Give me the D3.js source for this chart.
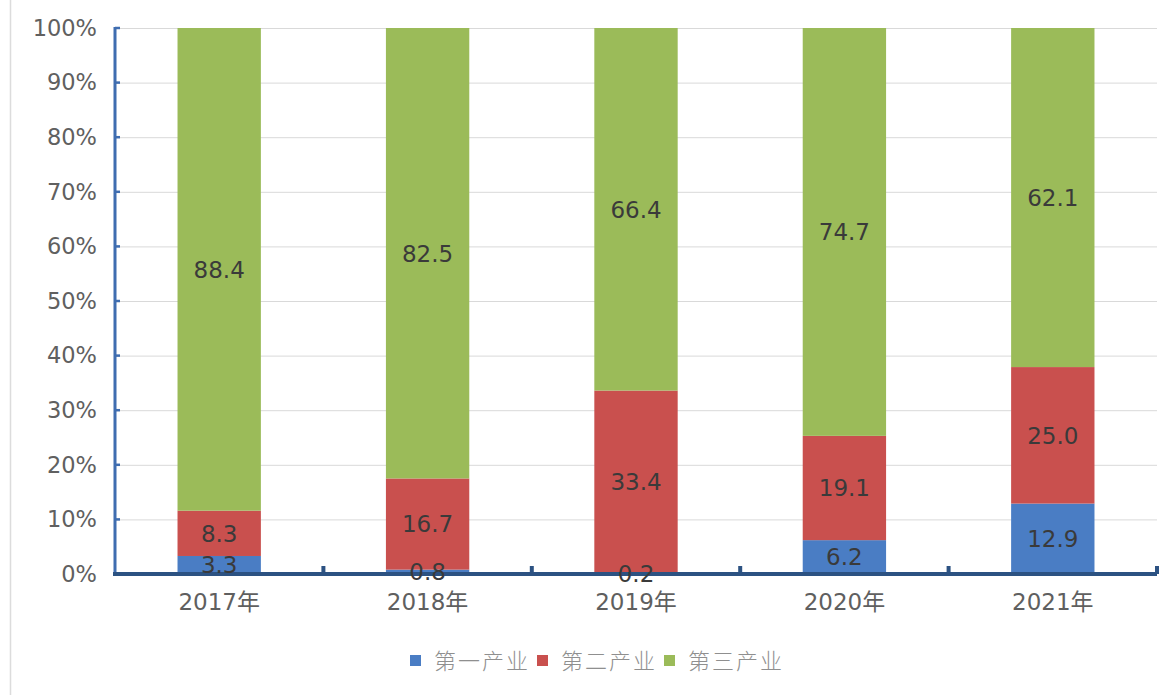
<!DOCTYPE html>
<html><head><meta charset="utf-8">
<script src="https://cdn.jsdelivr.net/npm/d3@7"></script>
<style>body{margin:0;background:#fff;}svg{display:block;}</style>
</head><body>
<svg id="c" width="1159" height="695"></svg>
<script>
const categories = ["2017年","2018年","2019年","2020年","2021年"];
const seriesNames = ["第一产业","第二产业","第三产业"];
const primary = [3.3, 0.8, 0.2, 6.2, 12.9];
const secondary = [8.3, 16.7, 33.4, 19.1, 25.0];
const tertiary = [88.4, 82.5, 66.4, 74.7, 62.1];
const yTicks = [0,10,20,30,40,50,60,70,80,90,100];
const colors = ["#4A7DC4", "#C9504E", "#9BBB59"];

(function(){
const svg = d3.select("#c");
const W = 1159, H = 695;
const pLeft = 115, pRight = 1157, pTop = 28, pBottom = 574;

const x = d3.scaleBand().domain(categories).range([pLeft, pRight]).padding(0);
const y = d3.scaleLinear().domain([0, 100]).range([pBottom, pTop]);
const barW = x.bandwidth() * 0.4;

svg.append("line").attr("x1", 10.5).attr("x2", 10.5).attr("y1", 0).attr("y2", H)
  .attr("stroke", "#dcdcdc").attr("stroke-width", 1.5);

svg.append("g").selectAll("line").data(yTicks.filter(d => d > 0)).join("line")
  .attr("x1", pLeft).attr("x2", pRight)
  .attr("y1", d => y(d) + 0.5).attr("y2", d => y(d) + 0.5)
  .attr("stroke", "#d9d9d9").attr("stroke-width", 1);

const rows = categories.map((c, i) => ({cat: c, "第一产业": primary[i], "第二产业": secondary[i], "第三产业": tertiary[i]}));
const stack = d3.stack().keys(seriesNames)(rows);

const g = svg.append("g");
stack.forEach((layer, li) => {
  g.selectAll(null).data(layer).join("rect")
    .attr("x", d => x(d.data.cat) + (x.bandwidth() - barW) / 2)
    .attr("width", barW)
    .attr("y", d => y(d[1]))
    .attr("height", d => y(d[0]) - y(d[1]))
    .attr("fill", colors[li]);
});

const yAxis = d3.axisLeft(y).tickValues(yTicks).tickFormat(d => d + "%").tickSize(0).tickPadding(18);
const ya = svg.append("g").attr("transform", `translate(${pLeft},0)`).call(yAxis);
ya.select(".domain").remove();
ya.selectAll("text").attr("font-family", "'DejaVu Sans', sans-serif").attr("font-size", 22.5).attr("fill", "#606060");
svg.append("line").attr("x1", pLeft).attr("x2", pLeft).attr("y1", pTop - 1).attr("y2", pBottom)
  .attr("stroke", "#3F6DB0").attr("stroke-width", 3);
svg.append("g").selectAll("line").data(yTicks).join("line")
  .attr("x1", pLeft).attr("x2", pLeft + 5).attr("y1", d => y(d)).attr("y2", d => y(d))
  .attr("stroke", "#3F6DB0").attr("stroke-width", 2.5);

const xAxis = d3.axisBottom(x).tickSize(0).tickPadding(20);
const xa = svg.append("g").attr("transform", `translate(0,${pBottom})`).call(xAxis);
xa.select(".domain").remove();
xa.selectAll("text").attr("font-family", "'DejaVu Sans', 'Noto Sans CJK SC', sans-serif").attr("font-size", 23).attr("fill", "#5f5f5f");
svg.append("line").attr("x1", pLeft - 2).attr("x2", pRight).attr("y1", pBottom).attr("y2", pBottom)
  .attr("stroke", "#2C5282").attr("stroke-width", 4);
const bounds = categories.map(c => x(c) + x.bandwidth());
svg.append("g").selectAll("line").data(bounds).join("line")
  .attr("x1", d => d).attr("x2", d => d).attr("y1", pBottom).attr("y2", pBottom - 8)
  .attr("stroke", "#2C5282").attr("stroke-width", 4);

stack.forEach((layer, li) => {
  svg.append("g").selectAll("text").data(layer).join("text")
    .attr("x", d => x(d.data.cat) + x.bandwidth() / 2)
    .attr("y", d => (y(d[0]) + y(d[1])) / 2)
    .attr("dy", "0.36em")
    .attr("text-anchor", "middle")
    .attr("font-family", "'DejaVu Sans', sans-serif")
    .attr("font-size", 23)
    .attr("fill", "#3a3a3a")
    .text(d => (d[1] - d[0]).toFixed(1));
});

const legendX = [410, 537, 664];
const lg = svg.append("g");
seriesNames.forEach((n, i) => {
  lg.append("rect").attr("x", legendX[i]).attr("y", 655).attr("width", 11).attr("height", 11).attr("fill", colors[i]);
  lg.append("text").attr("x", legendX[i] + 24).attr("y", 661).attr("dy", "0.36em")
    .attr("font-family", "'Noto Sans CJK SC', sans-serif").attr("font-size", 22).attr("font-weight", 300)
    .attr("letter-spacing", 2)
    .attr("fill", "#8f8f8f").text(n);
});
})();
</script>
</body></html>
